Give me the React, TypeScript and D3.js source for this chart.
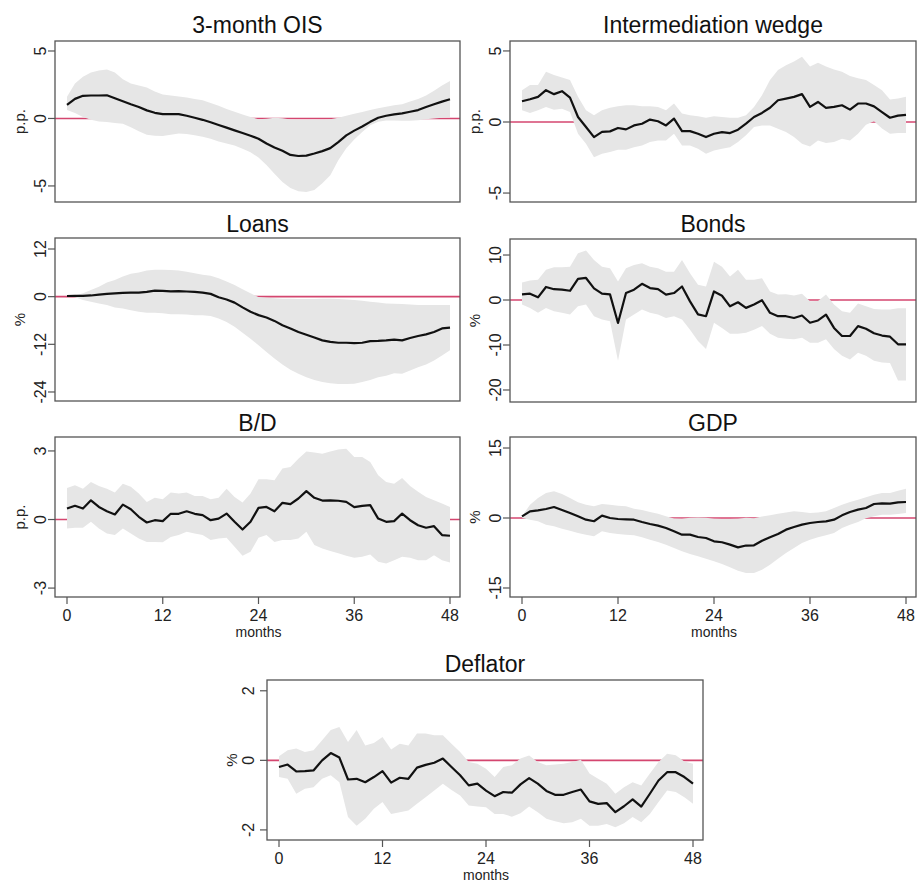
import * as d3 from "d3";

// months 0..48 (x index)
const months = d3.range(0, 49);
const xTicks = [0, 12, 24, 36, 48];

// 3-month OIS (p.p.)
const oisMean = [1.0, 1.45, 1.68, 1.7, 1.7, 1.72, 1.5, 1.28, 1.05, 0.85, 0.6, 0.42, 0.32, 0.33, 0.32, 0.2, 0.05, -0.1, -0.28, -0.48, -0.68, -0.88, -1.08, -1.28, -1.5, -1.85, -2.15, -2.4, -2.7, -2.78, -2.75, -2.6, -2.42, -2.2, -1.75, -1.25, -0.9, -0.6, -0.25, 0.05, 0.2, 0.3, 0.38, 0.5, 0.62, 0.85, 1.05, 1.25, 1.42];
const oisUpper = [1.6, 2.6, 3.1, 3.4, 3.55, 3.62, 3.4, 2.9, 2.6, 2.45, 2.3, 2.0, 1.78, 1.7, 1.62, 1.55, 1.45, 1.35, 1.15, 0.95, 0.7, 0.5, 0.3, 0.1, -0.05, -0.03, 0.05, 0.02, -0.08, -0.1, -0.1, -0.08, -0.1, -0.05, 0.05, 0.2, 0.35, 0.48, 0.62, 0.75, 0.87, 0.97, 1.05, 1.25, 1.45, 1.7, 2.05, 2.45, 2.77];
const oisLower = [0.62, 0.4, 0.1, -0.1, -0.22, -0.27, -0.33, -0.4, -0.65, -0.95, -1.2, -1.28, -1.3, -1.2, -1.12, -1.15, -1.25, -1.35, -1.5, -1.7, -1.85, -2.0, -2.25, -2.5, -2.9, -3.45, -4.1, -4.7, -5.15, -5.4, -5.45, -5.3, -4.8, -4.2, -3.1, -2.2, -1.55, -1.0, -0.5, -0.25, -0.15, -0.15, -0.17, -0.17, -0.13, -0.05, 0.0, 0.05, 0.1];

// Intermediation wedge (p.p.)
const wedgeMean = [1.46, 1.6, 1.77, 2.24, 1.96, 2.17, 1.72, 0.35, -0.35, -1.06, -0.7, -0.66, -0.42, -0.52, -0.24, -0.12, 0.17, 0.05, -0.24, 0.24, -0.64, -0.64, -0.83, -1.06, -0.83, -0.71, -0.78, -0.54, -0.12, 0.35, 0.64, 1.0, 1.53, 1.65, 1.77, 1.96, 1.06, 1.41, 1.0, 1.06, 1.18, 0.87, 1.3, 1.3, 1.1, 0.7, 0.3, 0.45, 0.5];
const wedgeUpper = [2.24, 2.6, 2.6, 3.54, 3.3, 3.14, 2.95, 1.77, 0.83, 0.47, 0.83, 1.0, 1.1, 1.18, 1.18, 1.1, 1.1, 1.06, 0.83, 1.3, 0.59, 0.47, 0.4, 0.3, 0.4, 0.35, 0.3, 0.3, 0.47, 1.06, 1.89, 2.95, 3.66, 4.0, 4.25, 4.6, 3.9, 4.17, 3.9, 3.7, 3.54, 3.23, 3.07, 2.95, 2.6, 2.24, 1.58, 1.65, 1.77];
const wedgeLower = [0.83, 0.64, 0.83, 1.06, 0.87, 0.94, 0.71, -0.83, -1.53, -2.48, -2.24, -2.12, -1.96, -1.96, -1.77, -1.65, -1.41, -1.3, -1.3, -0.83, -1.65, -1.65, -1.89, -2.24, -2.0, -1.89, -1.77, -1.41, -0.94, -0.35, -0.24, -0.24, -0.47, -0.71, -1.06, -1.53, -1.72, -1.3, -1.48, -1.41, -1.18, -1.3, -0.83, -0.2, 0.05, -0.45, -0.83, -0.78, -0.78];

// Loans (%)
const loansMean = [0.17, 0.2, 0.2, 0.3, 0.5, 0.7, 0.85, 0.95, 1.0, 1.0, 1.2, 1.5, 1.45, 1.35, 1.4, 1.3, 1.2, 1.0, 0.7, -0.15, -0.7, -1.5, -2.7, -3.8, -4.65, -5.25, -6.1, -7.2, -8.0, -8.9, -9.6, -10.3, -11.0, -11.4, -11.6, -11.6, -11.7, -11.6, -11.2, -11.15, -11.0, -10.8, -11.0, -10.4, -9.9, -9.5, -8.9, -8.0, -7.8];
const loansUpper = [0.17, 0.3, 0.85, 1.7, 2.5, 3.55, 4.2, 5.1, 5.75, 6.1, 6.6, 6.75, 6.75, 6.7, 6.6, 6.25, 5.9, 5.5, 5.25, 4.65, 3.8, 2.95, 1.85, 0.85, -0.1, -0.25, -0.4, -0.5, -0.55, -0.6, -0.6, -0.6, -0.55, -0.55, -0.6, -0.7, -0.85, -1.0, -1.25, -1.5, -1.7, -1.8, -1.85, -2.0, -2.1, -2.1, -2.1, -2.1, -2.1];
const loansLower = [0.1, -0.15, -0.85, -1.25, -1.7, -2.1, -2.7, -3.0, -3.4, -3.8, -4.05, -4.05, -4.2, -4.4, -4.4, -4.5, -4.65, -4.65, -4.9, -5.5, -6.35, -7.6, -9.1, -10.6, -12.25, -13.95, -15.6, -17.1, -18.4, -19.4, -20.3, -21.0, -21.5, -21.8, -22.0, -22.0, -21.9, -21.5, -21.0, -20.3, -19.9, -19.3, -19.4, -18.6, -17.8, -17.1, -16.1, -14.8, -13.5];

// Bonds (%)
const bondsMean = [1.25, 1.4, 0.6, 2.9, 2.4, 2.3, 2.05, 4.7, 4.9, 2.6, 1.4, 1.25, -5.1, 1.55, 2.3, 3.6, 2.65, 2.4, 1.2, 1.55, 3.0, -0.3, -3.2, -3.6, 1.9, 0.95, -1.4, -0.5, -1.75, -1.0, -0.05, -2.85, -3.6, -3.6, -4.0, -3.45, -5.05, -4.55, -3.25, -6.2, -8.0, -8.0, -5.8, -6.4, -7.4, -7.9, -8.15, -9.85, -9.85];
const bondsUpper = [3.9, 4.35, 4.5, 6.7, 7.3, 7.3, 7.4, 10.4, 11.0, 8.9, 7.4, 7.05, 4.1, 7.05, 7.8, 8.15, 7.4, 7.05, 6.3, 6.3, 8.9, 5.95, 3.4, 3.0, 8.5, 7.4, 5.2, 6.7, 4.5, 4.5, 4.85, 1.9, 1.2, 1.3, 1.0, 1.4, -0.3, -0.2, 1.2, -1.0, -2.5, -2.85, -0.8, -1.4, -2.0, -2.1, -2.1, -1.85, -1.85];
const bondsLower = [-1.0, -1.75, -2.85, -1.75, -2.5, -2.85, -3.2, -1.4, -1.0, -3.6, -4.35, -4.7, -13.5, -4.35, -3.2, -2.1, -2.85, -3.2, -4.0, -3.6, -4.35, -6.6, -9.1, -10.9, -5.05, -6.2, -7.5, -7.5, -7.3, -6.6, -5.8, -7.5, -8.4, -8.6, -8.75, -8.4, -9.5, -9.5, -8.75, -10.9, -12.4, -13.2, -11.7, -12.4, -13.5, -13.9, -14.0, -17.9, -17.9];

// B/D (p.p.)
const bdMean = [0.48, 0.6, 0.48, 0.84, 0.55, 0.36, 0.22, 0.65, 0.45, 0.12, -0.13, -0.03, -0.07, 0.25, 0.25, 0.36, 0.25, 0.19, -0.03, 0.04, 0.26, -0.1, -0.44, -0.1, 0.51, 0.55, 0.36, 0.73, 0.67, 0.92, 1.24, 0.95, 0.83, 0.84, 0.82, 0.77, 0.54, 0.6, 0.63, 0.04, -0.1, -0.07, 0.26, -0.03, -0.25, -0.36, -0.29, -0.68, -0.71];
const bdUpper = [1.38, 1.5, 1.35, 1.64, 1.47, 1.35, 1.18, 1.57, 1.43, 1.14, 0.77, 0.95, 0.89, 1.18, 1.14, 1.18, 1.03, 1.03, 0.89, 0.95, 1.35, 0.99, 0.74, 1.14, 1.76, 1.76, 1.72, 2.23, 2.3, 2.66, 2.98, 2.93, 2.88, 2.98, 3.06, 3.1, 2.74, 2.74, 2.52, 1.94, 1.64, 1.57, 1.82, 1.47, 1.21, 0.99, 0.84, 0.7, 0.55];
const bdLower = [-0.39, -0.36, -0.36, -0.1, -0.39, -0.61, -0.68, -0.39, -0.61, -0.83, -0.98, -0.98, -1.0, -0.76, -0.68, -0.54, -0.61, -0.68, -0.9, -0.83, -0.8, -1.19, -1.59, -1.41, -0.8, -0.68, -0.98, -0.9, -0.9, -0.83, -0.54, -1.12, -1.27, -1.38, -1.48, -1.59, -1.67, -1.63, -1.53, -1.85, -1.92, -1.78, -1.63, -1.67, -1.78, -1.78, -1.56, -1.78, -1.88];

// GDP (%)
const gdpMean = [0.35, 1.43, 1.64, 1.93, 2.36, 1.7, 1.07, 0.36, -0.36, -0.7, 0.5, 0, -0.21, -0.29, -0.36, -0.86, -1.29, -1.64, -2.14, -2.86, -3.57, -3.57, -4.07, -4.29, -5.0, -5.2, -5.7, -6.3, -5.9, -5.85, -4.86, -4.14, -3.43, -2.5, -1.93, -1.43, -1.07, -0.86, -0.71, -0.36, 0.57, 1.29, 1.79, 2.14, 3.0, 3.14, 3.07, 3.36, 3.43];
const gdpUpper = [0.35, 2.86, 4.29, 5.36, 5.71, 5.14, 4.29, 3.36, 2.86, 2.5, 3.0, 2.86, 2.64, 2.5, 2.0, 1.7, 1.3, 0.9, 0.4, -0.1, -0.15, 0.05, 0.1, 0.05, -0.15, -0.2, -0.2, -0.15, 0.05, -0.05, 0.3, 0.6, 0.9, 1.2, 1.43, 1.3, 1.07, 1.2, 1.43, 2.14, 2.86, 3.43, 3.93, 4.43, 5.0, 5.36, 5.36, 5.86, 6.29];
const gdpLower = [0, -0.36, -0.71, -1.43, -1.79, -2.29, -2.71, -3.21, -3.57, -3.93, -2.86, -3.21, -3.43, -3.57, -3.71, -4.14, -4.64, -5.14, -5.71, -6.43, -7.14, -7.71, -8.21, -8.71, -9.29, -9.86, -10.57, -11.29, -11.79, -11.79, -11.07, -10.0, -8.71, -7.5, -6.43, -5.36, -4.64, -4.14, -3.71, -3.21, -2.14, -1.43, -0.86, -0.05, 0.36, 0.71, 0.71, 0.86, 1.07];

// Deflator (%)
const deflMean = [-0.19, -0.12, -0.32, -0.31, -0.29, 0, 0.21, 0.08, -0.55, -0.53, -0.63, -0.48, -0.31, -0.64, -0.5, -0.53, -0.21, -0.13, -0.07, 0.05, -0.19, -0.43, -0.72, -0.67, -0.87, -1.03, -0.91, -0.93, -0.69, -0.51, -0.67, -0.88, -0.99, -0.99, -0.91, -0.84, -1.18, -1.25, -1.23, -1.49, -1.32, -1.12, -1.33, -0.96, -0.58, -0.34, -0.34, -0.48, -0.67];
const deflUpper = [0.12, 0.29, 0.34, 0.24, 0.29, 0.58, 0.87, 0.96, 0.53, 0.87, 0.43, 0.5, 0.67, 0.31, 0.48, 0.43, 0.77, 0.77, 0.72, 0.72, 0.48, 0.24, -0.05, -0.1, -0.24, -0.48, -0.19, -0.14, 0.05, 0.14, -0.05, -0.14, -0.12, -0.1, -0.05, 0.02, -0.38, -0.53, -0.67, -0.96, -0.77, -0.63, -0.72, -0.38, -0.05, 0.19, 0.15, -0.03, -0.1];
const deflLower = [-0.48, -0.53, -0.96, -0.82, -0.77, -0.53, -0.43, -0.63, -1.63, -1.88, -1.68, -1.39, -1.2, -1.54, -1.49, -1.44, -1.25, -1.06, -0.87, -0.67, -0.85, -1.01, -1.3, -1.33, -1.35, -1.54, -1.54, -1.62, -1.52, -1.33, -1.49, -1.68, -1.75, -1.81, -1.78, -1.68, -1.88, -1.88, -1.83, -1.92, -1.81, -1.63, -1.78, -1.54, -1.2, -0.87, -0.91, -1.06, -1.25];

const FONT = "'Liberation Sans', Arial, Helvetica, sans-serif";
const BAND = "#e6e6e6";
const ZERO = "#d4466f";

type PanelProps = {
    title: string;
    unit: string;
    mean: number[];
    upper: number[];
    lower: number[];
    yDomain: [number, number];
    yTicks: number[];
    left: number;
    right: number;
    top: number;
    bottom: number;
    titleY: number;
    showX?: boolean;
    tickOffset?: number;
};

const Panel = ({ title, unit, mean, upper, lower, yDomain, yTicks, left, right, top, bottom, titleY, showX, tickOffset = 15 }: PanelProps) => {
    const x = d3.scaleLinear().domain([0, 48]).range([left + 12, right - 10]);
    const y = d3.scaleLinear().domain(yDomain).range([bottom, top]);

    const area = d3.area<number>()
        .x(d => x(d))
        .y0(d => y(lower[d]))
        .y1(d => y(upper[d]));
    const line = d3.line<number>()
        .x(d => x(d))
        .y(d => y(mean[d]));

    const midY = (top + bottom) / 2;

    return (
        <g>
            <text x={(left + right) / 2} y={titleY} textAnchor="middle" fontSize={23} fill="#111">{title}</text>
            <line x1={left} x2={right} y1={y(0)} y2={y(0)} stroke={ZERO} strokeWidth={1.6} />
            <path d={area(months) ?? ""} fill={BAND} />
            <path d={line(months) ?? ""} fill="none" stroke="#111" strokeWidth={2.2} strokeLinejoin="round" />
            <rect x={left} y={top} width={right - left} height={bottom - top} fill="none" stroke="#555" strokeWidth={1.3} />
            {yTicks.map(t => (
                <g key={t}>
                    <line x1={left - 7} x2={left} y1={y(t)} y2={y(t)} stroke="#555" strokeWidth={1.2} />
                    <text transform={`translate(${left - tickOffset},${y(t)}) rotate(-90)`} textAnchor="middle" dy="0.35em" fontSize={16} fill="#222">{t}</text>
                </g>
            ))}
            <text transform={`translate(${left - 35},${midY}) rotate(-90)`} textAnchor="middle" dy="0.35em" fontSize={15} fill="#222">{unit}</text>
            {showX && (
                <g>
                    {xTicks.map(t => (
                        <g key={t}>
                            <line x1={x(t)} x2={x(t)} y1={bottom} y2={bottom + 7} stroke="#555" strokeWidth={1.2} />
                            <text x={x(t)} y={bottom + 24} textAnchor="middle" fontSize={16} fill="#222">{t}</text>
                        </g>
                    ))}
                    <text x={(x(0) + x(48)) / 2} y={bottom + 40} textAnchor="middle" fontSize={14} fill="#222">months</text>
                </g>
            )}
        </g>
    );
};

const App = () => {
    return (
        <div style={{ position: "absolute", left: 0, top: 0 }}>
            <svg width={917} height={885} fontFamily={FONT} style={{ display: "block", background: "#fff" }}>
                <Panel title="3-month OIS" unit="p.p." mean={oisMean} upper={oisUpper} lower={oisLower}
                    yDomain={[-6.19, 5.74]} yTicks={[-5, 0, 5]} left={55} right={460} top={41} bottom={202} titleY={33} />
                <Panel title="Intermediation wedge" unit="p.p." mean={wedgeMean} upper={wedgeUpper} lower={wedgeLower}
                    yDomain={[-5.63, 5.7]} yTicks={[-5, 0, 5]} left={510} right={916} top={41} bottom={202} titleY={33} />
                <Panel title="Loans" unit="%" mean={loansMean} upper={loansUpper} lower={loansLower}
                    yDomain={[-26.27, 14.77]} yTicks={[-24, -12, 0, 12]} left={55} right={460} top={238} bottom={401} titleY={232} />
                <Panel title="Bonds" unit="%" mean={bondsMean} upper={bondsUpper} lower={bondsLower}
                    yDomain={[-22.67, 13.56]} yTicks={[-20, -10, 0, 10]} left={510} right={916} top={239} bottom={402} titleY={232} />
                <Panel title="B/D" unit="p.p." mean={bdMean} upper={bdUpper} lower={bdLower}
                    yDomain={[-3.39, 3.61]} yTicks={[-3, 0, 3]} left={55} right={460} top={437} bottom={597} titleY={431} showX />
                <Panel title="GDP" unit="%" mean={gdpMean} upper={gdpUpper} lower={gdpLower}
                    yDomain={[-16.93, 17.36]} yTicks={[-15, 0, 15]} left={510} right={916} top={437} bottom={597} titleY={431} showX />
                <Panel title="Deflator" unit="%" mean={deflMean} upper={deflUpper} lower={deflLower}
                    yDomain={[-2.29, 2.31]} yTicks={[-2, 0, 2]} left={267} right={703} top={680} bottom={840} titleY={672} showX tickOffset={19} />
            </svg>
        </div>
    );
};

export default App;
